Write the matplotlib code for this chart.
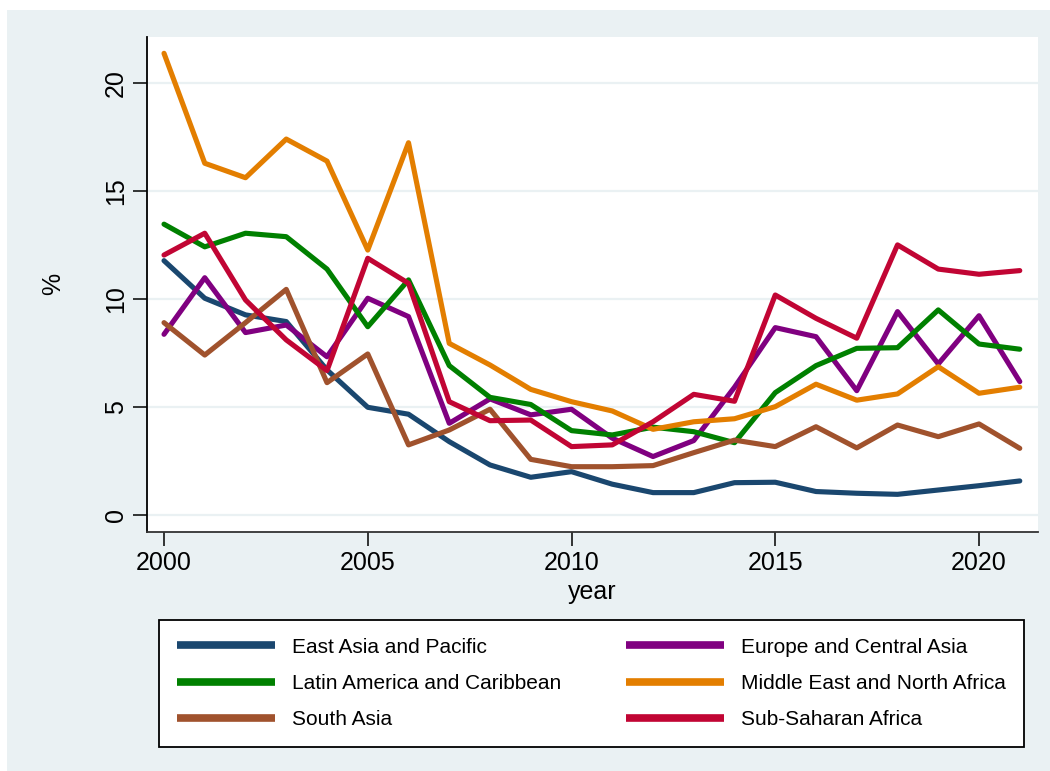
import numpy as np
import matplotlib
matplotlib.use('Agg')
import matplotlib.pyplot as plt
from matplotlib.patches import Rectangle

plt.rcParams['font.family'] = ['Liberation Sans', 'DejaVu Sans']

years = list(range(2000, 2022))

# regional shares (%) by year
east_asia = [11.76, 10.02, 9.25, 8.94, 6.7, 4.97, 4.65, 3.38, 2.3, 1.73, 1.99,
             1.41, 1.02, 1.02, 1.48, 1.5, 1.07, 0.99, 0.94, 1.14, 1.34, 1.56]
europe_ca = [8.35, 10.97, 8.43, 8.78, 7.31, 10.02, 9.17, 4.23, 5.36, 4.62, 4.88,
             3.54, 2.69, 3.43, 5.9, 8.66, 8.24, 5.74, 9.4, 6.98, 9.21, 6.16]
latin_am = [13.45, 12.4, 13.03, 12.87, 11.37, 8.7, 10.87, 6.9, 5.43, 5.1, 3.89,
            3.69, 4.05, 3.84, 3.33, 5.65, 6.9, 7.7, 7.73, 9.48, 7.9, 7.66]
mideast_na = [21.36, 16.27, 15.6, 17.39, 16.37, 12.25, 17.22, 7.93, 6.93, 5.8, 5.23,
              4.8, 3.95, 4.3, 4.44, 5.0, 6.04, 5.3, 5.59, 6.85, 5.62, 5.9]
south_asia = [8.89, 7.39, 8.89, 10.43, 6.11, 7.44, 3.23, 3.92, 4.88, 2.56, 2.22,
              2.22, 2.27, 2.87, 3.45, 3.15, 4.07, 3.09, 4.15, 3.61, 4.2, 3.07]
ssa = [12.02, 13.03, 9.94, 8.09, 6.67, 11.87, 10.71, 5.23, 4.35, 4.38, 3.15,
       3.23, 4.3, 5.57, 5.25, 10.17, 9.09, 8.17, 12.49, 11.37, 11.13, 11.3]

regions = ['East Asia and Pacific', 'Europe and Central Asia',
           'Latin America and Caribbean', 'Middle East and North Africa',
           'South Asia', 'Sub-Saharan Africa']
series = [east_asia, europe_ca, latin_am, mideast_na, south_asia, ssa]
colors = ['#1a476f', '#800080', '#008000', '#e37e00', '#a0522d', '#c10534']

bg = '#eaf1f3'
fig = plt.figure(figsize=(10.5, 7.71), dpi=100)
fig.patches.append(Rectangle((7 / 1050, 0), 1, 761 / 771, transform=fig.transFigure,
                             facecolor=bg, edgecolor='none', zorder=-10))

ax = fig.add_axes([147.3 / 1050, 1 - 531.7 / 771, 890.4 / 1050, 495 / 771])
ax.set_facecolor('white')

lines = {}
for name, vals, c in zip(regions, series, colors):
    ln, = ax.plot(years, vals, color=c, lw=3.7, solid_capstyle='round',
                  solid_joinstyle='round', label=name)
    lines[name] = ln

ax.set_xlim(1999.59, 2021.44)
ax.set_ylim(-0.79, 22.13)
ax.set_xticks([2000, 2005, 2010, 2015, 2020])
ax.set_yticks([0, 5, 10, 15, 20])
ax.grid(axis='y', color=bg, lw=1.6)
ax.set_axisbelow(True)

for s in ['top', 'right']:
    ax.spines[s].set_visible(False)
ax.spines['left'].set_color('black')
ax.spines['bottom'].set_color('#333333')
ax.spines['left'].set_linewidth(1.3)
ax.spines['bottom'].set_linewidth(1.3)

ax.tick_params(axis='both', direction='out', length=10, width=1.1,
               labelsize=18, colors='black')
ax.tick_params(axis='x', pad=4)
ax.tick_params(axis='y', pad=4)
for lab in ax.get_yticklabels():
    lab.set_rotation(90)
    lab.set_va('center')

ax.set_xlabel('year', fontsize=18)
ax.set_ylabel('%', fontsize=18)
ax.xaxis.set_label_coords(0.5, -0.098)
ax.yaxis.set_label_coords(-0.092, 0.5)

# legend laid out row by row in two columns
order = [0, 2, 4, 1, 3, 5]
handles = [lines[regions[i]] for i in order]
labels = [regions[i] for i in order]
leg = fig.legend(handles, labels, ncol=2, loc='upper center',
                 bbox_to_anchor=(591.5 / 1050, 1 - 620 / 771),
                 borderaxespad=0, fontsize=15, frameon=True, fancybox=False,
                 facecolor='white', framealpha=1, edgecolor='black',
                 handlelength=4.7, handletextpad=0.85, labelspacing=0.82,
                 borderpad=0.85, columnspacing=3.08)
leg.get_frame().set_linewidth(1.3)
for h in leg.legend_handles:
    h.set_linewidth(5.5)
    h.set_solid_capstyle('butt')

fig.savefig('out.png', dpi=100)
